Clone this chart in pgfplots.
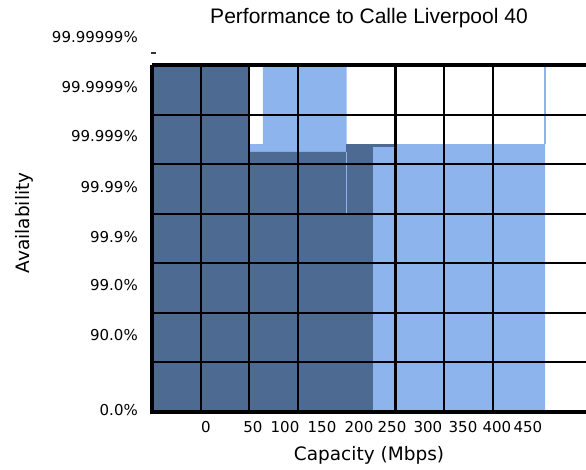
\documentclass[border=0pt]{standalone}
\usepackage{pgfplots}
\pgfplotsset{compat=1.18}
\usepackage{fontspec}
\setmainfont{DejaVu Sans}
\newfontfamily\titlefont{Liberation Sans}
\definecolor{darkblue}{RGB}{77,106,147}
\definecolor{lightblue}{RGB}{142,180,238}
\begin{document}
\begin{tikzpicture}
\useasboundingbox (0,0) rectangle (586pt,470pt);
\begin{axis}[
  at={(152pt,58pt)}, anchor=south west,
  scale only axis, width=434pt, height=347pt,
  xmin=0, xmax=8.912, ymin=0, ymax=7,
  clip=false,
  axis on top,
  axis line style={draw=none},
  major tick length=0pt,
  /pgf/number format/assume math mode=true,
  xtick={1.109,2.074,2.731,3.491,4.251,4.928,5.667,6.386,7.084,7.720},
  xticklabels={0,50,100,150,200,250,300,350,400,450},
  ytick={0.04,1.55,2.56,3.53,4.54,5.57,6.56},
  yticklabels={0.0\%,90.0\%,99.0\%,99.9\%,99.99\%,99.999\%,99.9999\%},
  extra x ticks={1,2,3,5,6,7},
  extra x tick labels={},
  extra x tick style={grid=major},
  extra y ticks={1,2,3,4,5,6},
  extra y tick labels={},
  extra y tick style={grid=major},
  major grid style={black, line width=2.1pt},
  tick label style={font=\fontsize{15}{18}\selectfont},
  xticklabel style={anchor=base, yshift=-21pt},
  yticklabel style={anchor=east, inner sep=0pt, xshift=-14pt},
  title={Performance to Calle Liverpool 40},
  title style={font=\titlefont\fontsize{21}{25}\selectfont, at={(0.5,1.1037)}, anchor=base},
  xlabel={Capacity (Mbps)},
  xlabel style={font=\fontsize{18.5}{22}\selectfont, at={(0.5,-0.1412)}, anchor=base},
  ylabel={Availability},
  ylabel style={font=\fontsize{18.5}{22}\selectfont, at={(-0.2949,0.545)}, anchor=center},
]
% light series
\addplot[fill=lightblue, draw=none] coordinates {(2.012,0) (2.012,5.406) (2.279,5.406) (2.279,7) (3.995,7) (3.995,5.406) (8.07,5.406) (8.07,0)} -- cycle;
% dark series
\addplot[fill=darkblue, draw=none] coordinates {(0,0) (0,7) (2.012,7) (2.012,5.245) (3.984,5.245) (3.984,5.406) (4.538,5.406) (4.538,0)} -- cycle;
\addplot[fill=darkblue, draw=none] coordinates {(4.538,5.346) (4.99,5.346) (4.99,5.406) (4.538,5.406)} -- cycle;
\addplot[lightblue, line width=1pt] coordinates {(3.984,5.245) (3.984,4.0)};
\addplot[lightblue, line width=1.2pt] coordinates {(8.07,5.406) (8.07,7)};
% axis frame
\draw[line width=3.6pt] (axis cs:0,7) -- (axis cs:0,0) -- (axis cs:8.912,0);
\draw[line width=3.4pt] (axis cs:0,7) -- (axis cs:8.912,7);
\draw[line width=1.5pt, black!80] (axis cs:-0.02,7.24) -- (axis cs:0.08,7.24);
\node[anchor=east, inner sep=0pt, xshift=-14pt, font=\fontsize{15}{18}\selectfont] at (axis cs:0,7.57) {99.99999\%};
\end{axis}
\end{tikzpicture}
\end{document}
